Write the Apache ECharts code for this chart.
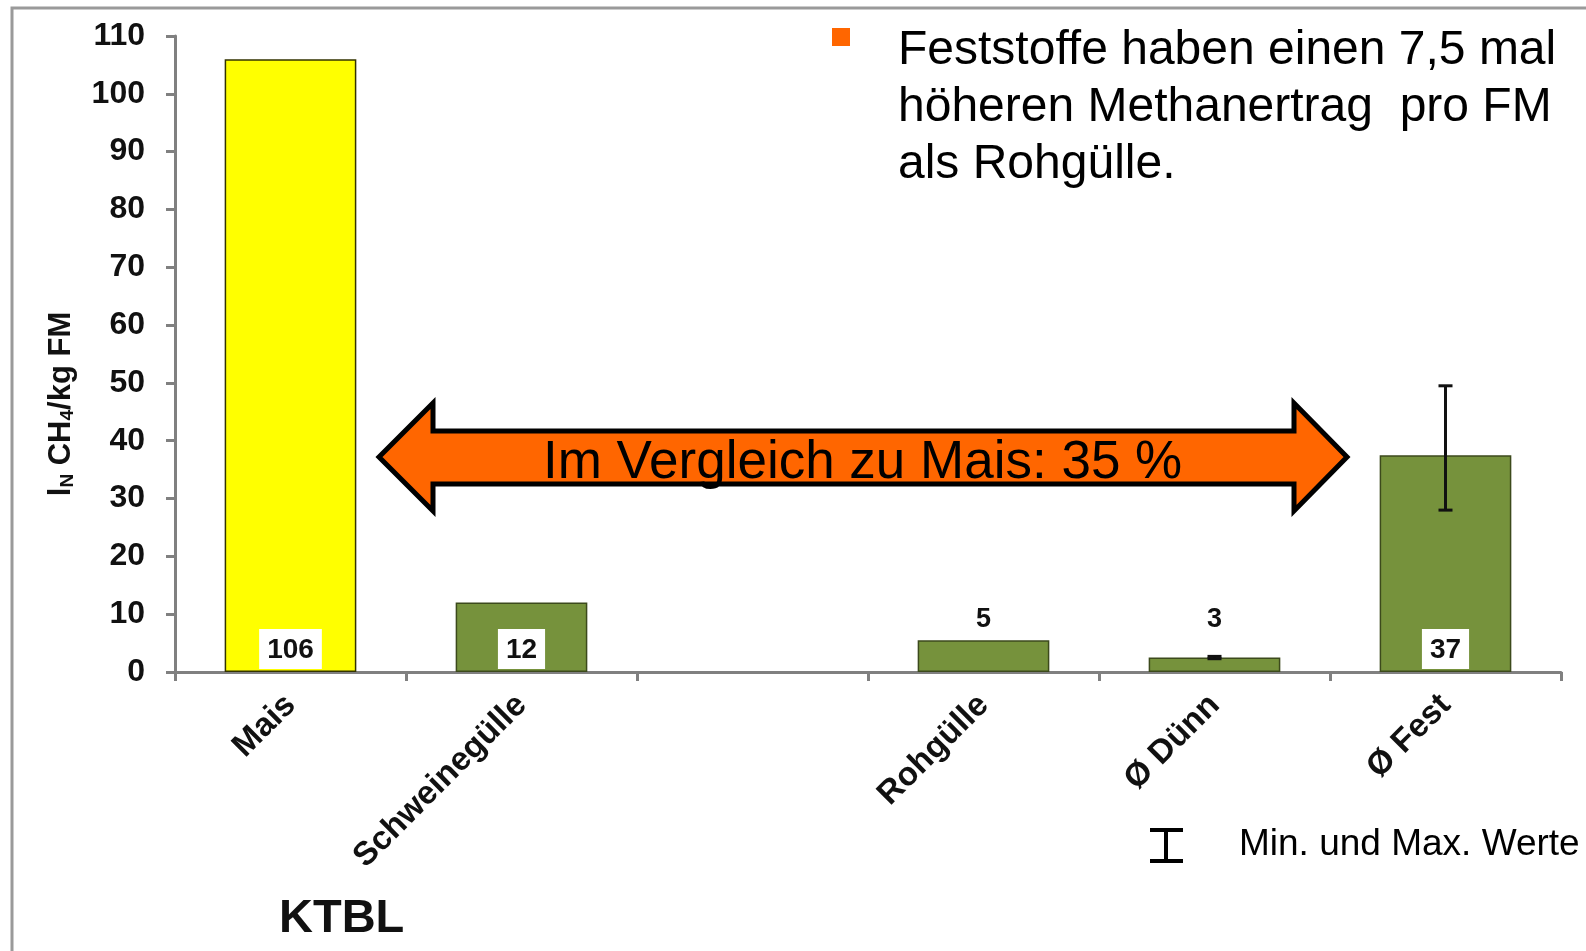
<!DOCTYPE html>
<html>
<head>
<meta charset="utf-8">
<script src="https://cdn.jsdelivr.net/npm/echarts@6/dist/echarts.min.js"></script>
<style>
  html, body { margin: 0; padding: 0; background: #fff; }
  #main { width: 1586px; height: 951px; }
</style>
</head>
<body>
<div id="main"></div>
<script>
var FONT = '"Liberation Sans", Arial, sans-serif';

// categories (third slot is an empty gap in the original)
var categories = ['Mais', 'Schweinegülle', '', 'Rohgülle', 'Ø Dünn', 'Ø Fest'];
var values = [106, 12, null, 5.5, 2.5, 37.5];
var valueLabels = ['106', '12', '', '5', '3', '37'];
// min / max whiskers
var errMin = [null, null, null, null, 2.3, 28];
var errMax = [null, null, null, null, 2.7, 49.5];

var yMin = 0, yMax = 110, yStep = 10;

var YELLOW = '#ffff00';
var GREEN = '#76923c';
var ORANGE = '#ff6600';

var myChart = echarts.init(document.getElementById('main'));

// label style: white box at bar foot, or plain text above small bars
var boxLabel = {
    show: true,
    position: 'insideBottom',
    distance: 3,
    backgroundColor: '#fff',
    padding: [7, 8, 5, 8],
    fontSize: 28,
    fontWeight: 'bold',
    fontFamily: FONT,
    color: '#111'
};
function plainLabel(dist) {
    return {
        show: true,
        position: 'top',
        distance: dist,
        fontSize: 27,
        fontWeight: 'bold',
        fontFamily: FONT,
        color: '#111'
    };
}
var labelStyles = [boxLabel, boxLabel, null, plainLabel(7), plainLabel(24), boxLabel];

var barData = values.map(function (v, i) {
    if (v === null) return null;
    var lbl = Object.assign({}, labelStyles[i], {
        formatter: function () { return valueLabels[i]; }
    });
    return {
        value: v,
        itemStyle: {
            color: i === 0 ? YELLOW : GREEN,
            borderColor: i === 0 ? '#333300' : '#3c4a1c',
            borderWidth: 1.5
        },
        label: lbl
    };
});

var errData = [];
categories.forEach(function (c, i) {
    if (errMin[i] !== null) errData.push([i, errMin[i], errMax[i]]);
});

function renderErr(params, api) {
    var i = api.value(0);
    var lo = api.coord([i, api.value(1)]);
    var hi = api.coord([i, api.value(2)]);
    var cap = 7;
    var st = { stroke: '#111', lineWidth: 3 };
    return {
        type: 'group',
        children: [
            { type: 'line', shape: { x1: lo[0], y1: lo[1], x2: hi[0], y2: hi[1] }, style: st },
            { type: 'line', shape: { x1: lo[0] - cap, y1: lo[1], x2: lo[0] + cap, y2: lo[1] }, style: st },
            { type: 'line', shape: { x1: hi[0] - cap, y1: hi[1], x2: hi[0] + cap, y2: hi[1] }, style: st }
        ]
    };
}

// double arrow annotation
var arrowPts = [
    [379, 457], [433, 403], [433, 431], [1294, 431], [1294, 403],
    [1347, 457], [1294, 511], [1294, 484], [433, 484], [433, 511]
];

var option = {
    backgroundColor: '#fff',
    animation: false,
    grid: { left: 175, right: 25, top: 36, bottom: 279, containLabel: false },
    xAxis: {
        type: 'category',
        data: categories,
        axisLine: { lineStyle: { color: '#808080', width: 3 } },
        axisTick: { show: true, length: 9, lineStyle: { color: '#808080', width: 3 } },
        axisLabel: {
            rotate: 45,
            interval: 0,
            margin: 28,
            fontSize: 33,
            fontWeight: 'bold',
            fontFamily: FONT,
            color: '#111'
        }
    },
    yAxis: {
        type: 'value',
        min: yMin,
        max: yMax,
        interval: yStep,
        splitLine: { show: false },
        axisLine: { show: true, lineStyle: { color: '#808080', width: 3 } },
        axisTick: { show: true, length: 9, lineStyle: { color: '#808080', width: 3 } },
        axisLabel: {
            margin: 30,
            fontSize: 32,
            fontWeight: 'bold',
            fontFamily: FONT,
            color: '#111'
        },
        name: '{a|l}{s|N}{a| CH}{s|4}{a|/kg FM}',
        nameLocation: 'middle',
        nameGap: 98,
        nameTextStyle: {
            padding: [0, 100, 0, 0],
            rich: {
                a: { fontSize: 31, fontWeight: 'bold', fontFamily: FONT, color: '#111' },
                s: { fontSize: 19, fontWeight: 'bold', fontFamily: FONT, color: '#111', verticalAlign: 'bottom', padding: [10, 0, 0, 0] }
            }
        }
    },
    series: [
        {
            type: 'bar',
            data: barData,
            barWidth: '57%'
        },
        {
            type: 'custom',
            renderItem: renderErr,
            data: errData,
            encode: { x: 0, y: [1, 2] },
            z: 5
        }
    ],
    graphic: [
        // outer frame
        { type: 'polyline', shape: { points: [[12, 951], [12, 8], [1586, 8]] }, style: { stroke: '#9a9a9a', lineWidth: 3, fill: null } },
        // arrow
        { type: 'polygon', shape: { points: arrowPts }, style: { fill: ORANGE, stroke: '#000', lineWidth: 5, lineJoin: 'miter' }, z: 10 },
        {
            type: 'text', left: 543, top: 437, z: 11,
            style: { text: 'Im Vergleich zu Mais: 35 %', font: '53px ' + FONT, fill: '#000' }
        },
        // bullet text
        { type: 'rect', shape: { x: 832, y: 28, width: 18, height: 18 }, style: { fill: ORANGE } },
        {
            type: 'text', left: 898, top: 22,
            style: {
                text: 'Feststoffe haben einen 7,5 mal\nhöheren Methanertrag  pro FM\nals Rohgülle.',
                font: '48px ' + FONT, fill: '#000', lineHeight: 57
            }
        },
        // min/max legend
        { type: 'line', shape: { x1: 1150, y1: 830, x2: 1183, y2: 830 }, style: { stroke: '#000', lineWidth: 4 } },
        { type: 'line', shape: { x1: 1166, y1: 830, x2: 1166, y2: 861 }, style: { stroke: '#000', lineWidth: 4 } },
        { type: 'line', shape: { x1: 1150, y1: 861, x2: 1183, y2: 861 }, style: { stroke: '#000', lineWidth: 4 } },
        {
            type: 'text', left: 1239, top: 826,
            style: { text: 'Min. und Max. Werte', font: '37px ' + FONT, fill: '#000' }
        },
        {
            type: 'text', left: 279, top: 896,
            style: { text: 'KTBL', font: 'bold 47px ' + FONT, fill: '#111' }
        }
    ]
};
myChart.setOption(option);
</script>
</body>
</html>
